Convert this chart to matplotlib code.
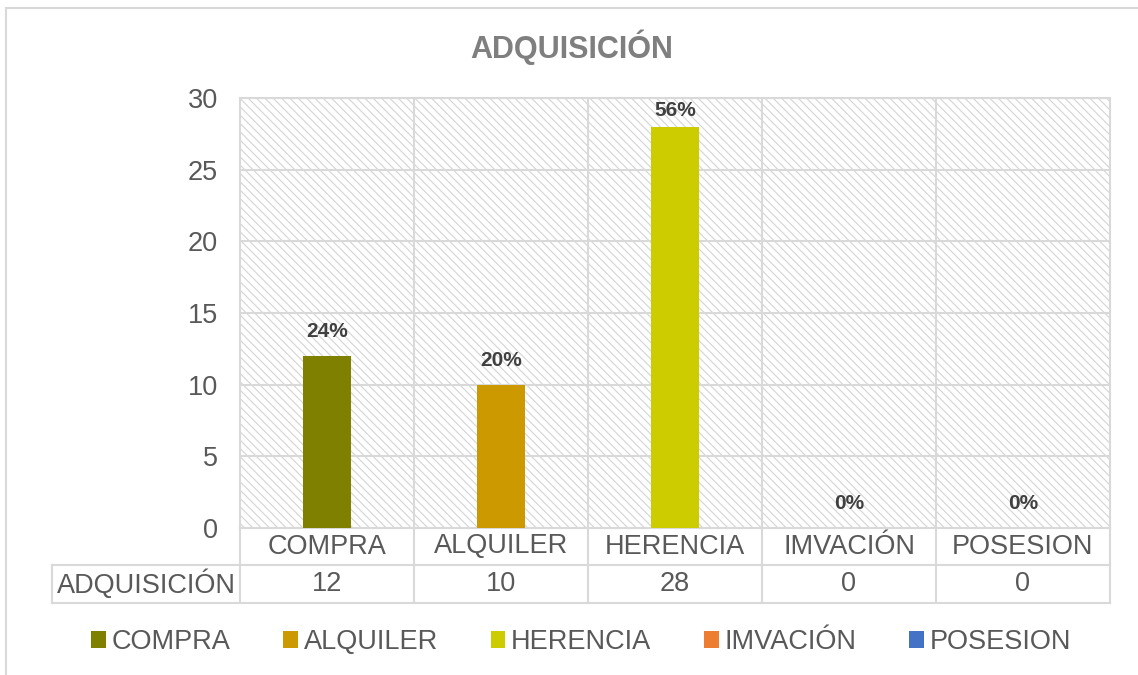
import matplotlib
matplotlib.use('Agg')
import matplotlib.pyplot as plt
import matplotlib.transforms as mtransforms
from matplotlib.patches import Rectangle, Patch

# ─────────────────────────────────────────────
# DATA
# ─────────────────────────────────────────────
categories = ['COMPRA', 'ALQUILER', 'HERENCIA', 'IMVACIÓN', 'POSESION']
values = [12, 10, 28, 0, 0]
pct_labels = ['24%', '20%', '56%', '0%', '0%']
series_name = 'ADQUISICIÓN'
colors = ['#808000', '#cc9900', '#cccc00', '#ed7d31', '#4472c4']
y_ticks = [0, 5, 10, 15, 20, 25, 30]

TEXT = '#595959'
GRID = '#d9d9d9'
FS = 19.5

plt.rcParams['font.family'] = ['Liberation Sans', 'DejaVu Sans']
plt.rcParams['hatch.color'] = '#d4d4d4'
plt.rcParams['hatch.linewidth'] = 0.8

W, H = 1138, 675
fig = plt.figure(figsize=(W / 100, H / 100), dpi=100)

# plot area in pixel terms
left, right, top, bottom = 240, 1110, 98, 528
ax = fig.add_axes([left / W, 1 - bottom / H, (right - left) / W, (bottom - top) / H])

# outer chart border (only left and top edges are visible)
fig.patches.append(Rectangle((6 / W, -0.1), 1.2, 1.1 - 8 / H, transform=fig.transFigure,
                             fill=False, edgecolor=GRID, linewidth=1.5))

# hatched plot background
ax.add_patch(Rectangle((0, 0), 1, 1, transform=ax.transAxes, facecolor='white',
                       hatch='\\\\\\\\', edgecolor='#d4d4d4', linewidth=0, zorder=0))

x = list(range(len(categories)))
ax.bar(x, values, width=0.28, color=colors, zorder=3)

ymax = y_ticks[-1]
pt_per_unit = (bottom - top) / ymax / 1.389
for i, (v, lab) in enumerate(zip(values, pct_labels)):
    # keep the label inside the plot area, like Excel does
    off = min(10.5, (ymax - v) * pt_per_unit - 15.5)
    ax.annotate(lab, (i, v), xytext=(0, off), textcoords='offset points',
                ha='center', va='bottom', fontsize=15, fontweight='bold', color='#404040')

ax.set_xlim(-0.5, len(categories) - 0.5)
ax.set_ylim(0, ymax)
ax.set_yticks(y_ticks)
ax.set_yticklabels([str(t) for t in y_ticks], fontsize=FS, color=TEXT)
ax.tick_params(axis='y', length=0, pad=16)
ax.set_xticks([])
for yt in y_ticks[1:]:
    ax.axhline(yt, color=GRID, linewidth=1.5, zorder=1)
for xb in [i + 0.5 for i in x[:-1]]:
    ax.axvline(xb, color=GRID, linewidth=1.5, zorder=1)
for s in ax.spines.values():
    s.set_color(GRID)
    s.set_linewidth(1.5)

# ─────────────────────────────────────────────
# DATA TABLE BELOW THE AXIS
# ─────────────────────────────────────────────
ph = bottom - top
y_mid = (bottom - 565) / ph
y_low = (bottom - 603) / ph
x_lab = (52 - left) / (right - left)
trans = mtransforms.blended_transform_factory(ax.transData, ax.transAxes)
line_kw = dict(color=GRID, linewidth=1.5, clip_on=False, zorder=2)

for xb in [i - 0.5 for i in x] + [x[-1] + 0.5]:
    ax.plot([xb, xb], [0, y_low], transform=trans, **line_kw)
ax.plot([x_lab, 1], [y_mid, y_mid], transform=ax.transAxes, **line_kw)
ax.plot([x_lab, 1], [y_low, y_low], transform=ax.transAxes, **line_kw)
ax.plot([x_lab, x_lab], [y_mid, y_low], transform=ax.transAxes, **line_kw)

for i, (c, v) in enumerate(zip(categories, values)):
    ax.text(i, y_mid / 2, c, transform=trans, ha='center', va='center',
            fontsize=FS, color=TEXT)
    ax.text(i, (y_mid + y_low) / 2, str(v), transform=trans, ha='center', va='center',
            fontsize=FS, color=TEXT)
ax.text(x_lab / 2, (y_mid + y_low) / 2, series_name, transform=ax.transAxes,
        ha='center', va='center', fontsize=FS, color=TEXT)

# title
fig.text(572 / W, 1 - 47 / H, series_name, ha='center', va='center',
         fontsize=22, fontweight='bold', color='#7f7f7f')

# legend
handles = [Patch(facecolor=col, label=c) for col, c in zip(colors, categories)]
fig.legend(handles=handles, loc='center', bbox_to_anchor=(581 / W, 1 - 642 / H),
           ncol=5, frameon=False, fontsize=FS, labelcolor=TEXT,
           handlelength=0.55, handleheight=0.55, handletextpad=0.2,
           columnspacing=1.95, borderaxespad=0)

fig.savefig('out.png', dpi=100)
